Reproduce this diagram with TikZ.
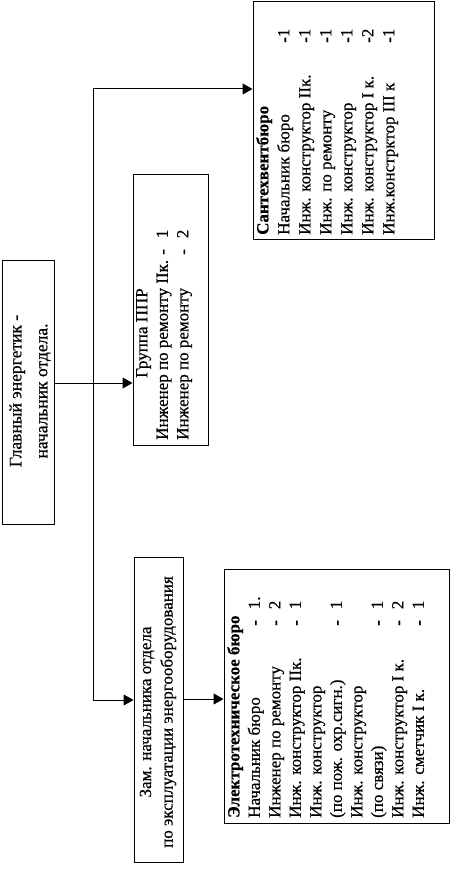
\documentclass[tikz,border=0pt]{standalone}
\usepackage{fontspec}
\setmainfont[FakeBold=0.6]{Liberation Serif}
\usetikzlibrary{arrows.meta}
\newcommand\cnt[1]{-\hspace{11pt}#1}
\begin{document}
\begin{tikzpicture}[x=1pt,y=-1pt,
 box/.style={draw,line width=1pt,inner sep=0pt},
 lbl/.style={rotate=90,inner sep=0pt,font=\fontsize{17}{20.5}\selectfont},
 conn/.style={line width=1pt},
 arr/.style={conn,-{Triangle[length=10pt,width=11pt]}}]
\useasboundingbox (0,0) rectangle (459,877);
% frames
\node[box,minimum width=52pt,minimum height=264pt] (main) at (28,392) {};
\node[box,minimum width=75pt,minimum height=270pt] (grp) at (170.5,310) {};
\node[box,minimum width=49pt,minimum height=305pt] (zam) at (158.5,709.5) {};
\node[box,minimum width=225pt,minimum height=254pt] (el) at (336.5,696) {};
\node[box,minimum width=181pt,minimum height=237pt] (san) at (343.5,120.5) {};
% texts
\node[lbl,align=center,font=\fontsize{17.5}{26}\selectfont] (maint) at (30,391)
 {Главный энергетик -\\начальник отдела.};
\node[lbl,align=center,font=\fontsize{17}{21.5}\selectfont] (zamt) at (158,712)
 {Зам. начальника отдела\\по эксплуатации энергооборудования};
\node[lbl,align=left,anchor=north west] (grpt) at (136,440)
 {\hspace{62pt}Группа ППР\\
  \makebox[185pt][l]{Инженер по ремонту IIк.}\cnt{1}\\
  \makebox[185pt][l]{Инженер по ремонту}\cnt{2}};
\node[lbl,align=left,anchor=north west] (elt) at (227,818)
 {\textbf{Электротехническое бюро}\\
  \makebox[192pt][l]{Начальник бюро}\cnt{1.}\\
  \makebox[192pt][l]{Инженер по ремонту}\cnt{2}\\
  \makebox[192pt][l]{Инж. конструктор IIк.}\cnt{1}\\
  Инж. конструктор\\
  \makebox[192pt][l]{(по пож. охр.сигн.)}\cnt{1}\\
  Инж. конструктор\\
  \makebox[192pt][l]{(по связи)}\cnt{1}\\
  \makebox[192pt][l]{Инж. конструктор I к.}\cnt{2}\\
  \makebox[192pt][l]{Инж. сметчик I к.}\cnt{1}};
\node[lbl,align=left,anchor=north west,font=\fontsize{17}{21}\selectfont] (sant) at (256,235)
 {\textbf{Сантехвентбюро}\\
  \makebox[192pt][l]{Начальник бюро}-1\\
  \makebox[192pt][l]{Инж. конструктор IIк.}-1\\
  \makebox[192pt][l]{Инж. по ремонту}-1\\
  \makebox[192pt][l]{Инж. конструктор}-1\\
  \makebox[192pt][l]{Инж. конструктор I к.}-2\\
  \makebox[192pt][l]{Инж.констрктор III к}-1};
% connectors
\coordinate (ttop) at (93,89);
\coordinate (tmid) at (93,383);
\coordinate (tbot) at (93,700);
\coordinate (zmid) at (183,699);
\draw[conn] (ttop) -- (tbot);
\draw[arr] (ttop) -- (san.west |- ttop);
\draw[arr] (main.east |- tmid) -- (grp.west |- tmid);
\draw[arr] (tbot) -- (zam.west |- tbot);
\draw[arr] (zam.east |- zmid) -- (el.west |- zmid);
\end{tikzpicture}
\end{document}
